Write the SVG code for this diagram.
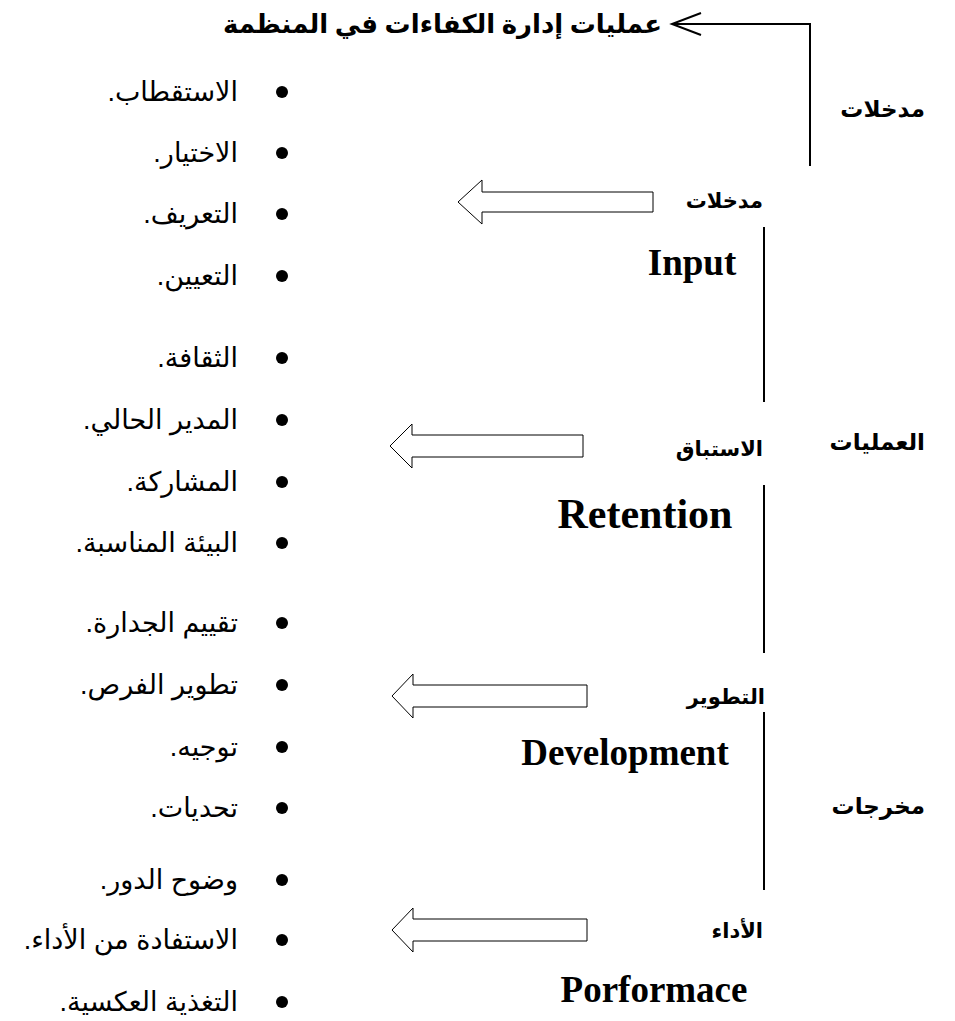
<svg xmlns="http://www.w3.org/2000/svg" width="955" height="1021" viewBox="0 0 955 1021">
<style>
.ar{font-family:"Liberation Sans","DejaVu Sans",sans-serif;font-size:27px;fill:#000;direction:rtl;}
.arb{font-family:"Liberation Serif","DejaVu Sans",serif;font-size:21px;font-weight:bold;fill:#000;direction:rtl;}
.side{font-size:23px;}
.ttl{font-size:26px;}
.en{font-family:"Liberation Serif",serif;font-size:37px;font-weight:bold;fill:#000;}
.ln{stroke:#000;stroke-width:2;fill:none;}
.blk{fill:#fff;stroke:#000;stroke-width:1;}
.dot{fill:#000;}
</style>
<rect width="955" height="1021" fill="#fff"/>
<g id="connectors">
<polyline class="ln" points="672,24 810,24 810,166"/>
<polyline class="ln" points="701,13 672,24 701,35" stroke-width="1.2"/>
<line class="ln" x1="764" y1="227" x2="764" y2="402"/>
<line class="ln" x1="764" y1="485" x2="764" y2="653"/>
<line class="ln" x1="764" y1="712" x2="764" y2="890"/>
<polygon class="blk" points="653,192 482,192 482,180 458,202 482,224 482,212 653,212"/>
<polygon class="blk" points="583,435 412,435 412,424 390,446 412,468 412,457 583,457"/>
<polygon class="blk" points="587,685 413,685 413,674 392,696 413,718 413,707 587,707"/>
<polygon class="blk" points="587,919 413,919 413,908 392,930 413,952 413,941 587,941"/>
</g>
<g id="title"><text class="arb ttl" x="662" y="33" text-anchor="start">عمليات إدارة الكفاءات في المنظمة</text></g>
<g id="side-inputs"><text class="arb side" x="925" y="117" text-anchor="start">مدخلات</text></g>
<g id="side-processes"><text class="arb side" x="925" y="450" text-anchor="start">العمليات</text></g>
<g id="side-outputs"><text class="arb side" x="925" y="814" text-anchor="start">مخرجات</text></g>
<g id="stage-input">
<text class="arb" x="763" y="208" text-anchor="start">مدخلات</text>
<text class="en" x="692" y="275" text-anchor="middle">Input</text>
</g>
<g id="stage-retention">
<text class="arb" x="763" y="456" text-anchor="start">الاستباق</text>
<text class="en" x="645" y="528" text-anchor="middle" style="font-size:42px">Retention</text>
</g>
<g id="stage-development">
<text class="arb" x="765" y="704" text-anchor="start">التطوير</text>
<text class="en" x="625" y="765" text-anchor="middle">Development</text>
</g>
<g id="stage-performance">
<text class="arb" x="763" y="938" text-anchor="start">الأداء</text>
<text class="en" x="654" y="1002" text-anchor="middle">Porformace</text>
</g>
<g id="list-input">
<circle class="dot" cx="282" cy="92" r="6"/><text class="ar" x="238" y="101" text-anchor="start">الاستقطاب.</text>
<circle class="dot" cx="282" cy="153" r="6"/><text class="ar" x="238" y="162" text-anchor="start">الاختيار.</text>
<circle class="dot" cx="282" cy="214" r="6"/><text class="ar" x="238" y="223" text-anchor="start">التعريف.</text>
<circle class="dot" cx="282" cy="276" r="6"/><text class="ar" x="238" y="285" text-anchor="start">التعيين.</text>
</g>
<g id="list-retention">
<circle class="dot" cx="282" cy="358" r="6"/><text class="ar" x="238" y="367" text-anchor="start">الثقافة.</text>
<circle class="dot" cx="282" cy="420" r="6"/><text class="ar" x="238" y="429" text-anchor="start">المدير الحالي.</text>
<circle class="dot" cx="282" cy="482" r="6"/><text class="ar" x="238" y="491" text-anchor="start">المشاركة.</text>
<circle class="dot" cx="282" cy="543" r="6"/><text class="ar" x="238" y="552" text-anchor="start">البيئة المناسبة.</text>
</g>
<g id="list-development">
<circle class="dot" cx="282" cy="623" r="6"/><text class="ar" x="238" y="632" text-anchor="start">تقييم الجدارة.</text>
<circle class="dot" cx="282" cy="685" r="6"/><text class="ar" x="238" y="694" text-anchor="start">تطوير الفرص.</text>
<circle class="dot" cx="282" cy="747" r="6"/><text class="ar" x="238" y="756" text-anchor="start">توجيه.</text>
<circle class="dot" cx="282" cy="808" r="6"/><text class="ar" x="238" y="817" text-anchor="start">تحديات.</text>
</g>
<g id="list-performance">
<circle class="dot" cx="282" cy="880" r="6"/><text class="ar" x="238" y="889" text-anchor="start">وضوح الدور.</text>
<circle class="dot" cx="282" cy="940" r="6"/><text class="ar" x="238" y="949" text-anchor="start">الاستفادة من الأداء.</text>
<circle class="dot" cx="282" cy="1002" r="6"/><text class="ar" x="238" y="1011" text-anchor="start">التغذية العكسية.</text>
</g>
</svg>
